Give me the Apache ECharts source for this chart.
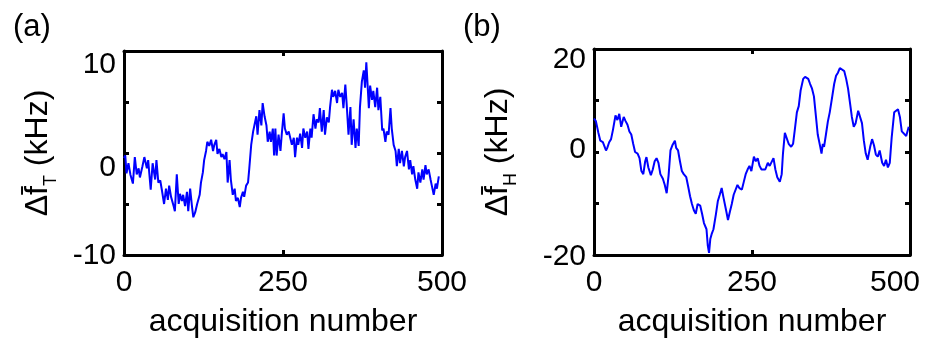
<!DOCTYPE html>
<html>
<head>
<meta charset="utf-8">
<script src="https://cdn.jsdelivr.net/npm/echarts@6/dist/echarts.min.js"></script>
<style>html,body{margin:0;padding:0;background:#fff;}#c{width:925px;height:343px;}</style>
</head>
<body>
<div id="c"></div>
<script>
// Panel (a): Δf_T (kHz) vs acquisition number
const xA = [0,2,4,7,10,14,17,20,23,25,29,32,36,38,42,45,49,51,54,57,60,63,66,69,71,74,78,80,83,86,88,91,93,96,99,101,104,107,109,112,115,119,121,124,126,129,131,134,137,140,142,145,147,150,153,155,158,161,163,166,168,171,174,176,179,182,184,187,189,192,195,197,200,203,205,208,210,213,216,218,221,224,226,229,231,234,236,238,240,243,246,248,251,253,256,259,261,264,267,269,272,274,277,280,282,285,288,290,293,295,298,301,303,306,308,311,314,316,319,322,324,327,329,332,335,337,340,343,345,348,350,353,356,358,361,364,366,369,371,374,377,379,381,383,385,387,390,392,395,398,400,403,406,408,411,413,416,419,421,424,427,429,432,434,437,440,442,445,448,450,453,455,458,461,463,466,469,471,474,476,479,482,484,487,490,492,495];
const yA = [-0.5,-0.25,-2,-1,-2.1,-3,-0.4,-2.1,-1.5,-2.4,-1.3,-0.4,-1.5,-0.7,-3.6,-1,-2.6,-0.7,-2.9,-2.7,-3.8,-5,-3.5,-4.6,-3.2,-4.3,-5.2,-5.7,-2.1,-5,-4,-4.7,-4.1,-5.2,-3.8,-5.7,-3.5,-5.3,-6.3,-5.8,-5,-4.1,-2.9,-1.9,-0.7,0.2,1.1,0.7,1.3,0.2,0.8,1.3,-0.1,0.4,-0.4,-0.1,-0.6,0.1,-2.9,-0.7,-2.6,-4.1,-3.5,-4.7,-4.4,-5.3,-4.4,-3.8,-4.3,-3.2,-2.9,-1.5,0.8,2.1,2.7,3.6,1.8,4.2,2.7,4.9,3.6,2.7,1.1,2.1,1.1,2.4,-0.25,2.4,-0.25,1.8,0.2,1.8,3.9,2.4,1.8,2.1,2.2,0.8,1.5,-0.4,1.5,0.8,1.9,0.5,2.4,1.5,2.1,0.4,2.4,1.5,3.8,2.4,3.3,3,4.4,2.1,4.2,1.8,3.5,3,4.5,6.2,5.5,6.1,4.9,6.2,5.5,5.9,4.4,6.7,4.9,1.8,4.5,0.8,3.3,0.5,2.4,0.7,4.5,7,8.1,6.4,8.9,6.7,4.4,6.6,5.2,6.1,4.5,6.4,4.2,5.5,2.2,2.4,1.1,2.1,1.8,4.4,2.4,0.8,0.2,-1.3,0.4,-1,0.2,-1.3,-0.4,0.2,-1.6,-0.7,-2.1,-1.3,-2.6,-3.5,-1.9,-2.9,-1.6,-2.6,-1.2,-2.1,-1.6,-2.6,-3.2,-4.1,-3,-3.5,-2.3];

// Panel (b): Δf_H (kHz) vs acquisition number
const xB = [0,3,7,10,14,16,19,21,24,27,30,34,37,40,43,47,50,53,56,59,62,65,69,72,75,78,81,83,86,90,93,96,99,102,105,109,112,115,118,121,124,128,130,133,136,139,142,146,149,152,155,158,161,164,168,171,174,178,180,182,184,186,189,193,196,199,202,205,209,212,215,218,221,224,227,230,234,237,240,243,246,249,253,256,259,262,265,268,271,275,278,281,284,287,290,294,297,299,302,305,308,312,315,318,321,324,327,331,334,339,342,345,348,351,354,358,360,362,364,367,370,373,377,380,383,386,389,392,396,399,402,405,408,411,414,418,421,424,427,430,433,437,440,443,446,449,452,456,459,462,465,468,471,475,478,481,484,487,490,494,498];
const yB = [6.5,6.0,3.7,2.2,1.9,2.2,0.3,0.8,1.9,2.5,4.3,7.1,6.2,7.4,4.9,6.8,6.0,5.3,4.0,3.4,1.6,0,-0.3,-1.2,-3.7,-4.3,-1.8,-1.0,-3.0,-4.5,-3.4,-1.8,-1.2,-2.1,-4.3,-5.2,-6.4,-8.0,-4.6,0.3,1.3,2.2,0.8,0.3,-1.8,-3.7,-4.3,-4.9,-6.7,-8.6,-10.1,-11.3,-12.0,-10.1,-10.4,-12.0,-13.8,-15.0,-18.1,-19.6,-16.9,-16.0,-15.0,-12.0,-9.5,-8.3,-7.0,-8.9,-11.3,-13.2,-11.6,-10.1,-8.3,-8.0,-6.4,-7.0,-7.3,-5.8,-4.3,-3.4,-2.7,-3.7,-0.9,-1.8,-1.2,-2.7,-3.4,-3.7,-3.4,-2.1,-2.7,-3.0,-1.2,-3.4,-4.9,-5.8,-4.3,-0.3,3.7,3.4,1.6,1.0,1.6,4.6,7.7,8.9,12.0,14.2,14.6,14.2,13.2,12.3,10.8,7.1,3.4,1.0,-0.3,1.6,1.0,3.4,5.9,7.7,10.8,13.2,14.8,15.4,16.3,16.6,15.7,14.2,12.3,9.6,6.8,4.9,5.6,8.0,8.3,5.6,2.2,-0.3,-1.5,1.0,2.5,1.3,-0.5,-0.9,0.3,-2.1,-2.7,-1.5,-3.0,-2.1,2.8,7.7,8.0,8.3,6.8,4.0,3.7,3.1,4.9];

const xTicks = [0, 250, 500];
const yTicksA = [-10, 0, 10];
const yTicksB = [-20, 0, 20];
const xTitle = 'acquisition number';
const panelLabels = ['(a)', '(b)'];

const FONT = "'Liberation Sans', Arial, Helvetica, sans-serif";
const LINE = { lineStyle: { color: '#000', width: 3 } };
const TICK = { show: true, inside: true, length: 5, lineStyle: { color: '#000', width: 3 } };

function xAxes(grid, maxRich) {
  return [{
    type: 'value', gridIndex: grid, position: 'bottom', min: 0, max: 500, interval: 250,
    axisLine: Object.assign({ show: true, onZero: false }, LINE), axisTick: TICK, splitLine: { show: false },
    axisLabel: {
      show: true, margin: 13, color: '#000', fontSize: 30, fontFamily: FONT,
      formatter: v => xTicks.indexOf(v) < 0 ? '' : (v === 500 && maxRich ? '{r|' + v + '}' : String(v)),
      rich: { r: { fontSize: 30, fontFamily: FONT, color: '#000', padding: [0, 30, 0, 0] } }
    },
    name: xTitle, nameLocation: 'middle', nameGap: 51,
    nameTextStyle: { color: '#000', fontSize: 32, fontFamily: FONT }
  }, {
    type: 'value', gridIndex: grid, position: 'top', min: 0, max: 500, interval: 250,
    axisLine: Object.assign({ show: true, onZero: false }, LINE), axisTick: TICK, splitLine: { show: false },
    axisLabel: { show: false }
  }];
}

// pads: label paddings for [min, zero, max] tick labels
function yAxes(grid, lim, step, ticks, sub, pads, gap) {
  const st = p => ({ fontSize: 30, fontFamily: FONT, color: '#000', padding: p });
  return [{
    type: 'value', gridIndex: grid, position: 'left', min: -lim, max: lim, interval: step,
    axisLine: Object.assign({ show: true, onZero: false }, LINE), axisTick: TICK, splitLine: { show: false },
    axisLabel: {
      show: true, margin: 8, color: '#000', fontSize: 30, fontFamily: FONT,
      formatter: v => ticks.indexOf(v) < 0 ? '' : (v === 0 ? '{z|0}' : (v < 0 ? '{lo|' + v + '}' : '{hi|' + v + '}')),
      rich: { lo: st(pads[0]), z: st(pads[1]), hi: st(pads[2]) }
    },
    name: '{m|Δf\u0304}{s|' + sub + '}{m| (kHz)}', nameLocation: 'middle', nameGap: gap, nameRotate: 90,
    nameTextStyle: {
      rich: {
        m: { fontSize: 32, fontFamily: FONT, color: '#000', lineHeight: 44 },
        s: { fontSize: 18, fontFamily: FONT, color: '#000', lineHeight: 24, verticalAlign: 'bottom' }
      }
    }
  }, {
    type: 'value', gridIndex: grid, position: 'right', min: -lim, max: lim, interval: step,
    axisLine: Object.assign({ show: true, onZero: false }, LINE), axisTick: TICK, splitLine: { show: false },
    axisLabel: { show: false }
  }];
}

const chart = echarts.init(document.getElementById('c'), null, { renderer: 'canvas' });
chart.setOption({
  animation: false,
  backgroundColor: '#fff',
  grid: [
    { left: 124, top: 51, width: 318, height: 216, containLabel: false },
    { left: 594, top: 49, width: 316, height: 216, containLabel: false }
  ],
  xAxis: xAxes(0, false).concat(xAxes(1, true)),
  yAxis: yAxes(0, 10, 5, yTicksA, 'T', [[2, 0, 0, 0], [30, 0, 0, 0], [28, 0, 0, 0]], 64)
    .concat(yAxes(1, 20, 10, yTicksB, 'H', [[4, 0, 0, 0], [0, 0, 4, 0], [22, 0, 0, 0]], 74)),
  series: [
    { type: 'line', xAxisIndex: 0, yAxisIndex: 0, showSymbol: false, symbol: 'none',
      data: xA.map((x, i) => [x, yA[i]]), lineStyle: { color: '#0000ff', width: 2 } },
    { type: 'line', xAxisIndex: 2, yAxisIndex: 2, showSymbol: false, symbol: 'none',
      data: xB.map((x, i) => [x, yB[i]]), lineStyle: { color: '#0000ff', width: 2 } }
  ],
  graphic: [
    { type: 'text', left: 13, top: 12, style: { text: panelLabels[0], fontSize: 31, fontFamily: FONT, fill: '#000' } },
    { type: 'text', left: 463, top: 12, style: { text: panelLabels[1], fontSize: 31, fontFamily: FONT, fill: '#000' } }
  ]
});
</script>
</body>
</html>
